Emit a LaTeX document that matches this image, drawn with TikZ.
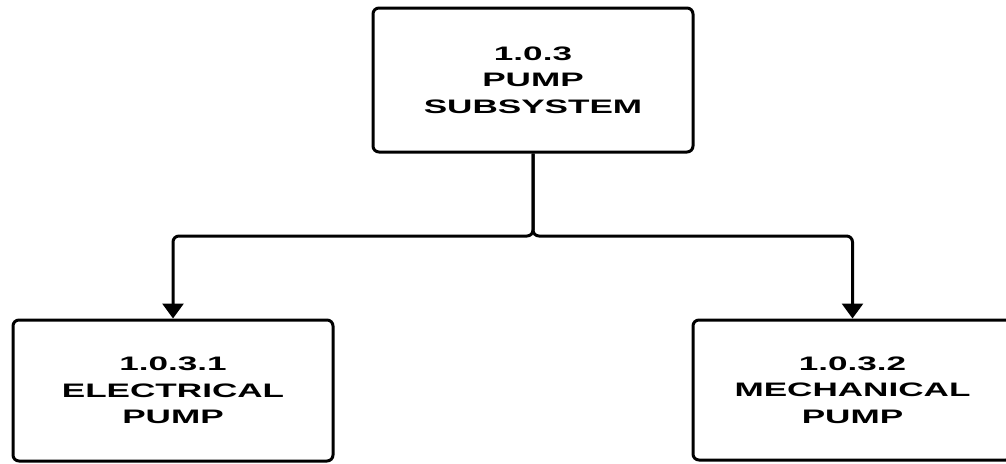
\documentclass[tikz,border=0pt]{standalone}
\usepackage{fontspec}
\newfontfamily\boxfont{Liberation Sans}[FakeStretch=1.8]
\usetikzlibrary{arrows.meta}
\begin{document}
\begin{tikzpicture}[x=1pt,y=1pt,
  wbs/.style={draw=black, line width=3pt, rounded corners=6pt, fill=white,
    align=center, inner sep=0pt,
    font=\boxfont\bfseries\fontsize{19.5}{26.5}\selectfont},
  conn/.style={draw=black, line width=3pt, rounded corners=6pt,
    -{Triangle[width=21pt,length=15pt]}}]
\useasboundingbox[fill=white] (0,0) rectangle (1006,-463);
\node[wbs, minimum width=320pt, minimum height=144pt] (top) at (533,-80)
  {1.0.3\\PUMP\\SUBSYSTEM};
\node[wbs, minimum width=320pt, minimum height=141pt] (left) at (173,-390.5)
  {1.0.3.1\\ELECTRICAL\\PUMP};
\node[wbs, minimum width=319pt, minimum height=140pt] (right) at (852.5,-390)
  {1.0.3.2\\MECHANICAL\\PUMP};
\coordinate (j) at (top.south |- 0,-236);
\draw[conn] (top.south) -- (j) -- (j -| left.north) -- (left.north);
\draw[conn] (top.south) -- (j) -- (j -| right.north) -- (right.north);
\end{tikzpicture}
\end{document}
